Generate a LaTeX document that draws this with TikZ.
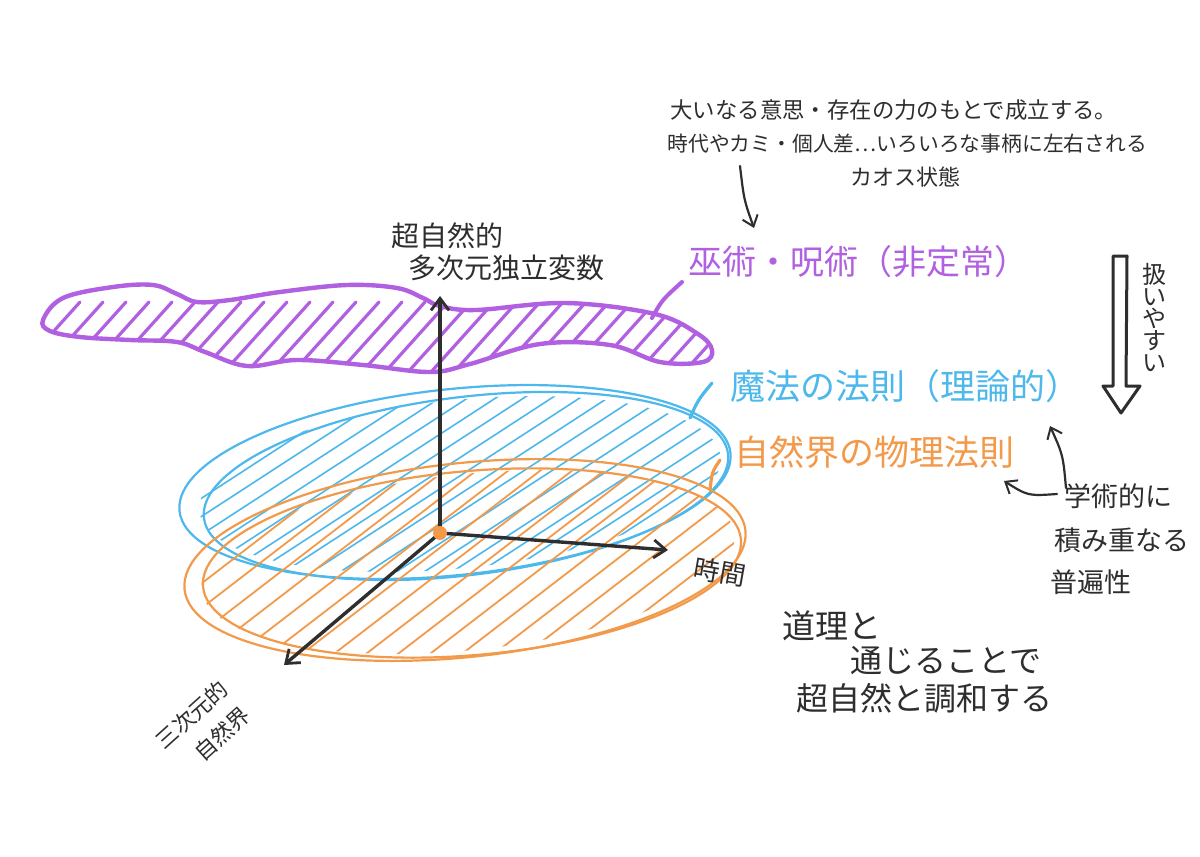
\documentclass[tikz,border=0pt]{standalone}
\usepackage{fontspec}
\newfontfamily\jp{Noto Sans CJK JP}
\usetikzlibrary{arrows.meta}
\definecolor{ink}{HTML}{2E2E2E}
\definecolor{pur}{HTML}{B060E0}
\definecolor{blu}{HTML}{4DB8EC}
\definecolor{org}{HTML}{F39A4A}
\tikzset{
  txt/.style={text=ink, inner sep=0pt},
  fs/.style={font=\jp\fontsize{#1}{#1}\selectfont},
  axisline/.style={draw=ink, line width=1.7pt, line cap=round, -{Straight Barb[length=6pt,width=9pt,line width=1.4pt]}},
  pointer/.style={draw=ink, line width=1.1pt, line cap=round, -{Straight Barb[length=5pt,width=8pt,line width=1pt]}},
  rimblue/.style={draw=blu, line width=1.1pt},
  rimorg/.style={draw=org, line width=1.1pt},
  hatchb/.style={draw=blu, line width=0.8pt, line cap=round},
  hatcho/.style={draw=org, line width=0.9pt, line cap=round},
  hatchp/.style={draw=pur, line width=1.6pt, line cap=round},
}
\begin{document}
\begin{tikzpicture}[x=0.5pt,y=-0.5pt]
\useasboundingbox (0,0) rectangle (1200,857);
\fill[white] (0,0) rectangle (1200,857);

% ---------- purple blob ----------
\def\blob{plot[smooth cycle, tension=0.6] coordinates {(43,320) (63,298) (113,287) (153,285) (177,294) (197,302) (230,300) (280,292) (347,285) (397,288) (423,298) (440,306) (476,310) (566,303) (655,314) (698,334) (712,350) (703,362) (660,362) (610,345) (540,344) (470,364) (430,372) (363,365) (297,360) (247,366) (205,352) (177,342) (130,340) (80,337) (50,331)}}
\begin{scope}
  \clip \blob;
  \foreach \x in {0,23,...,760} \draw[hatchp] (\x+8,382) -- ++(72,-80);
\end{scope}
\draw[draw=pur, line width=2.2pt] \blob;

% ---------- blue plane ----------
\begin{scope}
  \clip[shift={(460,484)}, rotate=6] (0,0) ellipse[x radius=262, y radius=84];
  \foreach \x in {-200,-172,...,760} \draw[hatchb] (\x,650) -- ++(560,-364);
\end{scope}
\draw[rimblue, shift={(455,482)}, rotate=6] (0,0) ellipse[x radius=277, y radius=93];
\draw[rimblue, shift={(466,486)}, rotate=7] (0,0) ellipse[x radius=264, y radius=89];

% ---------- orange plane ----------
\begin{scope}
  \clip[shift={(468,562)}, rotate=6] (0,0) ellipse[x radius=268, y radius=88];
  \foreach \x in {-200,-168,...,780} \draw[hatcho] (\x,720) -- ++(520,-400);
\end{scope}
\draw[rimorg, shift={(465,560)}, rotate=6] (0,0) ellipse[x radius=282, y radius=97];
\draw[rimorg, shift={(472,563)}, rotate=5] (0,0) ellipse[x radius=270, y radius=92];

% ---------- axes ----------
\coordinate (O) at (440,533);
\coordinate (up) at (440,296);
\coordinate (tm) at (668,550);
\coordinate (dl) at (284,665);
\draw[axisline] (O) -- (up);
\draw[axisline] (O) -- (tm);
\draw[axisline] (O) -- (dl);
\fill[org] (O) circle[radius=7];

% ---------- labels ----------
\node[txt, fs=14, anchor=west] (sz1) at (391,236) {超自然的};
\node[txt, fs=14, anchor=west] (sz2) at (408,268) {多次元独立変数};
\node[txt, fs=13, rotate=-10] (jikan) at (720,572) {時間};
\node[txt, fs=11, rotate=42] (sanji1) at (192,715) {三次元的};
\node[txt, fs=11, rotate=42] (sanji2) at (222,734) {自然界};

\node[txt, fs=11.2, anchor=west] (t1) at (670,110) {大いなる意思・存在の力のもとで成立する。};
\node[txt, fs=10.4, anchor=west] (t2) at (667,144) {時代やカミ・個人差…いろいろな事柄に左右される};
\node[txt, fs=11, anchor=west] (t3) at (850,177) {カオス状態};

\node[inner sep=0pt, text=pur, fs=17, anchor=west] (plab) at (688,262) {巫術・呪術（非定常）};
\node[inner sep=0pt, text=blu, fs=17.5, anchor=west] (blab) at (730,386) {魔法の法則（理論的）};
\node[inner sep=0pt, text=org, fs=17.5, anchor=west] (olab) at (734,452) {自然界の物理法則};

% connectors from planes to labels
\coordinate (pb) at (652,318);
\coordinate (pl) at (682,282);
\draw[draw=pur, line width=2pt, line cap=round] (pb) .. controls (662,300) .. (pl);
\coordinate (bb) at (690,418);
\coordinate (bl) at (712,383);
\draw[draw=blu, line width=1.6pt, line cap=round] (bb) .. controls (698,400) .. (bl);
\coordinate (ob) at (710,490);
\coordinate (ol) at (720,460);
\draw[draw=org, line width=1.6pt, line cap=round] (ob) .. controls (712,472) .. (ol);

% chaos arrow
\coordinate (ca) at (740,166);
\coordinate (cb) at (754,228);
\draw[pointer] (ca) .. controls (744,200) .. (cb);

% easy-to-handle arrow
\draw[draw=ink, line width=1.5pt, line join=round] (1113,256) -- (1127,256) -- (1126,386) -- (1140,386) -- (1121,413) -- (1103,386) -- (1113,386) -- cycle;
\node[txt, fs=12, align=center] (easy) at (1154,318) {扱\\[-1pt]い\\[-1pt]や\\[-1pt]す\\[-1pt]い};

% academic text
\node[txt, fs=13.5, anchor=west] (g1) at (1064,496) {学術的に};
\node[txt, fs=13.5, anchor=west] (g2) at (1054,540) {積み重なる};
\node[txt, fs=13.5, anchor=west] (g3) at (1050,582) {普遍性};
\coordinate (ga) at (1066,488);
\coordinate (gb) at (1050,426);
\draw[pointer] (ga) .. controls (1063,455) .. (gb);
\coordinate (gc) at (1057,494);
\coordinate (gd) at (1004,481);
\draw[pointer] (gc) .. controls (1028,496) .. (gd);

% harmony text
\node[txt, fs=16.5, anchor=west] (d1) at (782,626) {道理と};
\node[txt, fs=16, anchor=west] (d2) at (850,661) {通じることで};
\node[txt, fs=16, anchor=west] (d3) at (796,698) {超自然と調和する};
\end{tikzpicture}
\end{document}
